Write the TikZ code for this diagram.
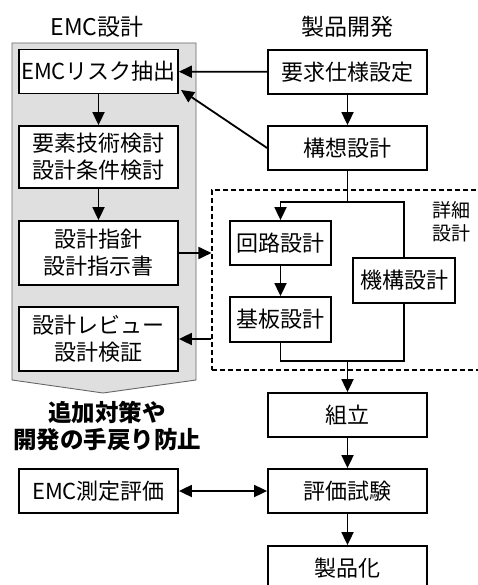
\documentclass[tikz,border=0pt]{standalone}
\usepackage{fontspec}
\setmainfont{Noto Sans CJK JP}
\usepackage{tikz}
\usetikzlibrary{positioning}
\usetikzlibrary{arrows.meta, calc}

\begin{document}
\begin{tikzpicture}[x=1pt,y=-1pt]

 \tikzset{stepbox/.style={
 		draw, line width=1.8pt, fill=white,
 		minimum width=#1, minimum height=44pt,
 		inner sep=0pt, align=center,
 		font=\fontsize{22pt}{27pt}\selectfont
 	},
 	stepbox/.default=159pt,
 	flow/.style={line width=1.8pt, -{Triangle[length=13pt,width=12pt]}},
 	twoway/.style={line width=1.8pt, {Triangle[length=13pt,width=12pt]}-{Triangle[length=13pt,width=12pt]}},
 	link/.style={line width=1.8pt},
 	title/.style={font=\fontsize{23pt}{27pt}\selectfont}
 }
 \useasboundingbox (0,0) rectangle (478,585);
 \clip (0,0) rectangle (478,585);

 % EMC side
 \fill[gray!25, draw=gray!80!black, line width=0.9pt]
 	(12,43) -- (196,43) -- (196,380) -- (103,393) -- (12,380) -- cycle;
 \node[title] (emct) at (97,27) {EMC設計};
 \node[stepbox] (risk) at (98.5,71.5) {EMCリスク抽出};
 \node[stepbox, minimum height=62pt] (elem) at (98.5,157) {要素技術検討\\設計条件検討};
 \node[stepbox, minimum height=64pt] (guide) at (98.5,253) {設計指針\\設計指示書};
 \node[stepbox, minimum height=64pt] (review) at (98.5,339) {設計レビュー\\設計検証};
 \node[font=\fontsize{23.5pt}{27pt}\selectfont\bfseries, align=center] (prevent) at (107,426)
 	{追加対策や\\開発の手戻り防止};
 \node[stepbox] (meas) at (98.5,491) {EMC測定評価};

 % product side
 \node[title] (devt) at (347,27) {製品開発};
 \node[draw, line width=1.1pt, dash pattern=on 5pt off 3pt,
 	minimum width=278pt, minimum height=180pt] (detail) at (351,280) {};
 \node[font=\fontsize{19pt}{23pt}\selectfont, align=center] (detailt) at (451,222) {詳細\\設計};
 \node[stepbox] (req) at (347.5,72) {要求仕様設定};
 \node[stepbox] (concept) at (347.5,148) {構想設計};
 \node[stepbox=101pt] (circuit) at (280.5,243) {回路設計};
 \node[stepbox=102pt, minimum height=45pt] (mech) at (404,280.5) {機構設計};
 \node[stepbox=101pt, minimum height=45pt] (board) at (280.5,319.5) {基板設計};
 \node[stepbox] (assy) at (347.5,415) {組立};
 \node[stepbox] (test) at (347.5,491) {評価試験};
 \node[stepbox] (prod) at (347.5,568) {製品化};

 \coordinate (split) at (347.5,202);
 \coordinate (merge) at (347.5,361);
 \coordinate (riskin) at (181,90);

 \draw[flow] (risk) -- (elem);
 \draw[flow] (elem) -- (guide);
 \draw[flow] (req) -- (risk);
 \draw[flow] (concept.west) -- (riskin);
 \draw[flow] (req) -- (concept);
 \draw[link] (concept) -- (split);
 \draw[flow] (split) -| (circuit.north);
 \draw[link] (split) -| (mech.north);
 \draw[flow] (circuit) -- (board);
 \draw[link] (board.south) |- (merge) -| (mech.south);
 \draw[flow] (merge) -- (assy);
 \draw[flow] (guide.east) -- (guide.east -| detail.west);
 \draw[flow] (review.east -| detail.west) -- (review.east);
 \draw[flow] (assy) -- (test);
 \draw[flow] (test) -- (prod);
 \draw[twoway] (meas) -- (test);
\end{tikzpicture}
\end{document}
